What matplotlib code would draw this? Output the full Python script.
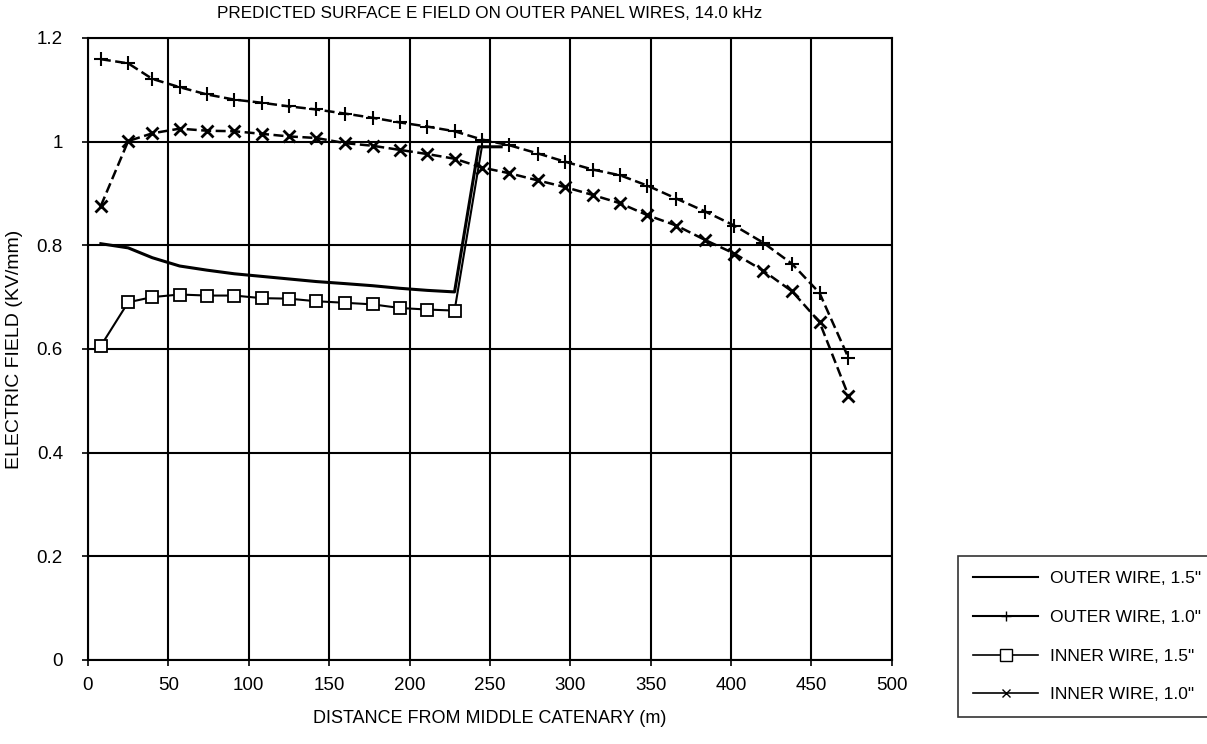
import numpy as np
import matplotlib
matplotlib.use('Agg')
import matplotlib.pyplot as plt
from matplotlib.lines import Line2D

# distances (m) where the points were computed
dist = [8, 25, 40, 57, 74, 91, 108, 125, 142, 160, 177, 194, 211, 228,
        245, 262, 280, 297, 314, 331, 348, 366, 384, 402, 420, 438, 455, 473]

# OUTER WIRE, 1.5" (solid, no markers) - stops near 260 m
outer_15_x = [8, 25, 40, 57, 74, 91, 108, 125, 142, 160, 177, 194, 211, 228, 243, 257]
outer_15 = [0.803, 0.795, 0.776, 0.760, 0.752, 0.745, 0.740, 0.735, 0.730, 0.726,
            0.722, 0.717, 0.713, 0.710, 0.990, 0.990]

# OUTER WIRE, 1.0"
outer_10 = [1.159, 1.151, 1.121, 1.105, 1.091, 1.081, 1.075, 1.068, 1.062, 1.054,
            1.046, 1.037, 1.029, 1.020, 1.004, 0.993, 0.977, 0.961, 0.946, 0.935,
            0.915, 0.890, 0.865, 0.838, 0.805, 0.764, 0.708, 0.583]

# INNER WIRE, 1.5"
inner_15_x = [8, 25, 40, 57, 74, 91, 108, 125, 142, 160, 177, 194, 211, 228, 245]
inner_15 = [0.606, 0.690, 0.700, 0.705, 0.703, 0.703, 0.698, 0.697, 0.692, 0.689,
            0.686, 0.679, 0.676, 0.674, 0.990]

# INNER WIRE, 1.0"
inner_10 = [0.876, 1.001, 1.016, 1.025, 1.021, 1.020, 1.015, 1.010, 1.007, 0.997,
            0.992, 0.984, 0.976, 0.967, 0.950, 0.939, 0.925, 0.912, 0.897, 0.881,
            0.858, 0.838, 0.810, 0.784, 0.751, 0.711, 0.652, 0.510]

labels = ['OUTER WIRE, 1.5"', 'OUTER WIRE, 1.0"', 'INNER WIRE, 1.5"', 'INNER WIRE, 1.0"']

plt.rcParams['font.family'] = ['Liberation Sans', 'DejaVu Sans']

fig = plt.figure(figsize=(12.07, 7.44), dpi=100)
ax = fig.add_axes([0.0729, 0.113, 0.666, 0.836])

ax.plot(outer_15_x, outer_15, color='black', lw=2.2)
ax.plot(dist, outer_10, color='black', lw=1.8, dashes=(4, 1.8),
        marker='+', ms=10, mew=1.5)
ax.plot(inner_15_x, inner_15, color='black', lw=1.5, marker='s', ms=8,
        mfc='white', mec='black', mew=1.3, markevery=slice(0, len(inner_15) - 1))
ax.plot(dist, inner_10, color='black', lw=1.8, dashes=(4, 1.8),
        marker='x', ms=8, mew=2)

ax.set_xlim(0, 500)
ax.set_ylim(0, 1.2)
ax.set_xticks(np.arange(0, 501, 50))
ax.set_yticks([0, 0.2, 0.4, 0.6, 0.8, 1.0, 1.2])
ax.set_yticklabels(['0', '0.2', '0.4', '0.6', '0.8', '1', '1.2'])
ax.grid(True, color='black', lw=1.5)
for s in ax.spines.values():
    s.set_linewidth(1.5)
ax.tick_params(direction='inout', length=8, width=1.2, labelsize=13.5)
ax.tick_params(axis='x', pad=8)
ax.tick_params(axis='y', pad=14)

ax.set_title('PREDICTED SURFACE E FIELD ON OUTER PANEL WIRES, 14.0 kHz',
             fontsize=12.3, pad=14)
ax.set_xlabel('DISTANCE FROM MIDDLE CATENARY (m)', fontsize=13, labelpad=12)
ax.set_ylabel('ELECTRIC FIELD (KV/mm)', fontsize=14, labelpad=10)

# legend with solid sample lines, marker in the middle
handles = [
    Line2D([], [], color='black', lw=1.5),
    Line2D([], [], color='black', lw=1.5, marker='+', ms=7, mew=1),
    Line2D([], [], color='black', lw=1.2, marker='s', ms=8, mfc='white', mec='black'),
    Line2D([], [], color='black', lw=1.2, marker='x', ms=6, mew=1),
]
leg = fig.legend(handles, labels, loc='lower left', bbox_to_anchor=(0.794, 0.036),
                 bbox_transform=fig.transFigure, fontsize=12.5, frameon=True,
                 fancybox=False, edgecolor='black', handlelength=3.75,
                 handletextpad=0.7, labelspacing=1.36, borderpad=0.85,
                 borderaxespad=0, numpoints=1)
leg.get_frame().set_linewidth(1.2)

fig.savefig('out.png', dpi=100)
